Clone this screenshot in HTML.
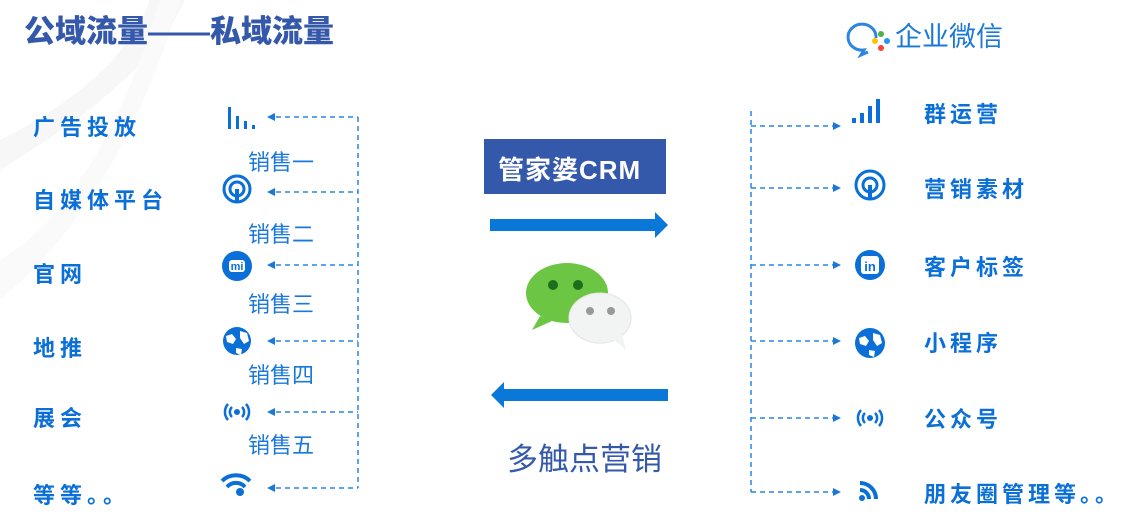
<!DOCTYPE html>
<html><head><meta charset="utf-8"><style>
body{margin:0;width:1146px;height:529px;background:#fff;overflow:hidden;position:relative;font-family:"Liberation Sans","Noto Sans CJK SC",sans-serif}
.t{position:absolute;white-space:nowrap}
.l{color:#0a6fd6;font-size:22px;font-weight:bold;letter-spacing:5px}
.s{color:#1a78d8;font-size:22px}
.r{color:#0a6fd6;font-size:22px;font-weight:bold;letter-spacing:4px}
</style></head><body>
<svg width="1146" height="529" style="position:absolute;left:0;top:0">
<path d="M0 170 Q150 80 185 0 L150 0 Q120 80 0 140Z" fill="#f7f7f7"/>
<path d="M0 529 L0 300 Q120 200 180 0 L160 0 Q100 200 0 260Z" fill="#fafafa"/>
<g stroke="#2a86e0" stroke-width="1.5" stroke-dasharray="5,4" fill="none">
<line x1="358" y1="117" x2="358" y2="488"/>
<line x1="276" y1="117" x2="358" y2="117"/>
<line x1="276" y1="192" x2="358" y2="192"/>
<line x1="276" y1="265" x2="358" y2="265"/>
<line x1="276" y1="341" x2="358" y2="341"/>
<line x1="276" y1="412" x2="358" y2="412"/>
<line x1="276" y1="488" x2="358" y2="488"/>
<line x1="751" y1="111" x2="751" y2="492"/>
<line x1="751" y1="126" x2="834" y2="126"/>
<line x1="751" y1="188" x2="834" y2="188"/>
<line x1="751" y1="265" x2="834" y2="265"/>
<line x1="751" y1="341" x2="834" y2="341"/>
<line x1="751" y1="418" x2="834" y2="418"/>
<line x1="751" y1="492" x2="834" y2="492"/>
</g>
<g fill="#1a78d8">
<path d="M267 117l8-4v8z"/><path d="M267 192l8-4v8z"/><path d="M267 265l8-4v8z"/><path d="M267 341l8-4v8z"/><path d="M267 412l8-4v8z"/><path d="M267 488l8-4v8z"/>
<path d="M841 126l-8-4v8z"/><path d="M841 188l-8-4v8z"/><path d="M841 265l-8-4v8z"/><path d="M841 341l-8-4v8z"/><path d="M841 418l-8-4v8z"/><path d="M841 492l-8-4v8z"/>
</g>
<g fill="#0a6fd6" stroke="#0a6fd6">
<rect x="228" y="107" width="3" height="22" stroke="none"/><rect x="236" y="116" width="3" height="13" stroke="none"/><rect x="244" y="121" width="3" height="8" stroke="none"/><rect x="252" y="125" width="3" height="4" stroke="none"/>
<g fill="none" stroke-width="3"><circle cx="237" cy="189" r="13"/><circle cx="237" cy="189" r="7"/></g><rect x="235" y="189" width="4" height="13" stroke="none"/>
<circle cx="237" cy="266" r="15" stroke="none"/>
<circle cx="237" cy="341" r="14" stroke="none"/>
<g fill="none" stroke-width="2.5"><path d="M228 404a12 12 0 000 16M246 404a12 12 0 010 16M232 407a7 7 0 000 10M242 407a7 7 0 010 10"/></g><circle cx="237" cy="412" r="3" stroke="none"/>
<g fill="none" stroke-width="4"><path d="M222 481a20 20 0 0 1 28 0M227 487a12 12 0 0 1 18 0"/></g><circle cx="240" cy="492" r="4" stroke="none"/>
</g>
<rect x="229" y="260" width="16" height="12" rx="3" fill="#fff"/><text x="237" y="270" font-size="11" font-weight="bold" fill="#0a6fd6" text-anchor="middle" font-family="Liberation Sans">mi</text>
<path d="M226 336l6-2 4 5-3 5-6-2zM240 331l7 2 2 8-5 3-4-6zM236 348l6 1-1 6-5-2z" fill="#fff"/>
<g fill="#0a6fd6" stroke="#0a6fd6">
<rect x="852" y="118" width="4" height="5" stroke="none"/><rect x="860" y="113" width="4" height="10" stroke="none"/><rect x="868" y="106" width="4" height="17" stroke="none"/><rect x="876" y="99" width="4" height="24" stroke="none"/>
<g fill="none" stroke-width="3"><circle cx="870" cy="185" r="14"/><circle cx="870" cy="185" r="7"/></g><rect x="868" y="185" width="4" height="15" stroke="none"/>
<circle cx="870" cy="265" r="15" stroke="none"/>
<circle cx="870" cy="343" r="15" stroke="none"/>
<g fill="none" stroke-width="2.5"><path d="M861 410a12 12 0 000 16M879 410a12 12 0 010 16M865 413a7 7 0 000 10M875 413a7 7 0 010 10"/></g><circle cx="870" cy="418" r="3" stroke="none"/>
<g fill="none" stroke-width="4"><path d="M860 483a16 16 0 0 1 16 16M860 490a9 9 0 0 1 9 9"/></g><circle cx="862" cy="498" r="3" stroke="none"/>
</g>
<rect x="861" y="256" width="18" height="18" rx="3" fill="#fff"/><text x="870" y="271" font-size="13" font-weight="bold" fill="#0a6fd6" text-anchor="middle" font-family="Liberation Sans">in</text>
<path d="M859 338l6-2 4 5-3 5-6-2zM873 333l7 2 2 8-5 3-4-6zM869 350l6 1-1 6-5-2z" fill="#fff"/>
<rect x="484" y="139" width="182" height="55" fill="#3559aa"/>
<rect x="490" y="219" width="166" height="12" fill="#0a78d8"/><path d="M655 212l13 13-13 13z" fill="#0a78d8"/>
<rect x="503" y="389" width="165" height="12" fill="#0a78d8"/><path d="M504 382l-13 13 13 13z" fill="#0a78d8"/>
<ellipse cx="567" cy="293" rx="41" ry="30" fill="#6cc644"/><path d="M540 316l-8 14 20-9z" fill="#6cc644"/>
<circle cx="553" cy="285" r="5" fill="#1b6e1b"/><circle cx="578" cy="285" r="5" fill="#1b6e1b"/>
<ellipse cx="600" cy="318" rx="31" ry="25" fill="#f2f3f3" stroke="#e5e5e5"/><path d="M612 338l14 12-4-16z" fill="#f2f3f3"/>
<circle cx="590" cy="311" r="4" fill="#999"/><circle cx="611" cy="311" r="4" fill="#999"/>
<path d="M876 38a14 13 0 1 0-12 12l-3 5 7-3" fill="none" stroke="#2a86e0" stroke-width="3"/>
<circle cx="881" cy="34" r="3" fill="#4caf50"/><circle cx="875" cy="41" r="3" fill="#ffc107"/><circle cx="881" cy="48" r="3" fill="#f44336"/><circle cx="887" cy="41" r="3" fill="#2196f3"/>
</svg>
<div class="t" style="left:24px;top:6px;font-size:31px;font-weight:900;color:#3559aa;letter-spacing:0px">公域流量——私域流量</div>
<div class="t" style="left:895px;top:15px;font-size:27px;color:#1a78d8">企业微信</div>
<div class="t" style="left:498px;top:150px;font-size:26px;font-weight:bold;color:#fff;letter-spacing:1px">管家婆CRM</div>
<div class="t" style="left:507px;top:434px;font-size:31px;color:#3559aa">多触点营销</div>
<div class="t l" style="left:33px;top:110px">广告投放</div>
<div class="t l" style="left:33px;top:183px">自媒体平台</div>
<div class="t l" style="left:33px;top:257px">官网</div>
<div class="t l" style="left:33px;top:331px">地推</div>
<div class="t l" style="left:33px;top:401px">展会</div>
<div class="t l" style="left:33px;top:478px">等等。。</div>
<div class="t s" style="left:248px;top:145px">销售一</div>
<div class="t s" style="left:248px;top:217px">销售二</div>
<div class="t s" style="left:248px;top:287px">销售三</div>
<div class="t s" style="left:248px;top:358px">销售四</div>
<div class="t s" style="left:248px;top:428px">销售五</div>
<div class="t r" style="left:924px;top:97px">群运营</div>
<div class="t r" style="left:924px;top:172px">营销素材</div>
<div class="t r" style="left:924px;top:250px">客户标签</div>
<div class="t r" style="left:924px;top:326px">小程序</div>
<div class="t r" style="left:924px;top:402px">公众号</div>
<div class="t r" style="left:924px;top:477px">朋友圈管理等。。</div>
</body></html>
